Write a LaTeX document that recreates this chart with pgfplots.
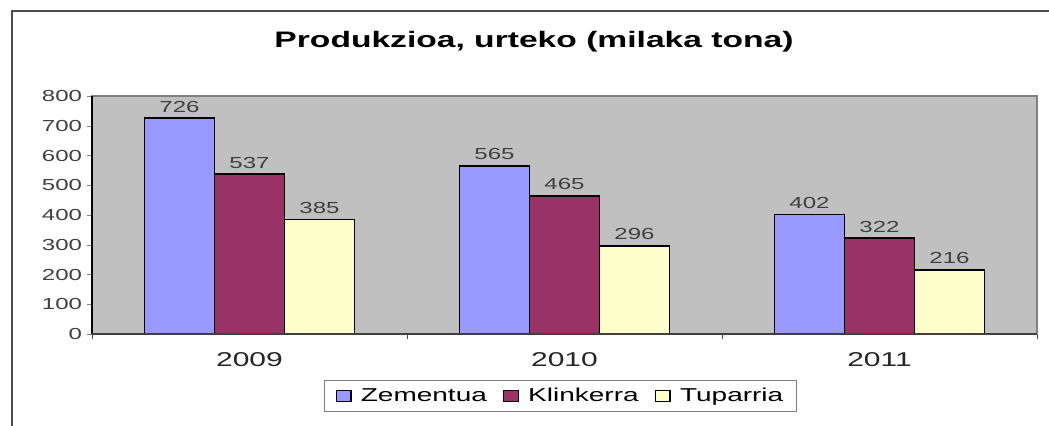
\documentclass[border=0pt]{standalone}
\usepackage{pgfplots}
\pgfplotsset{compat=1.18}
\usepackage{fontspec}
\setmainfont{Liberation Sans}[FakeStretch=1.5]
\definecolor{plotbg}{RGB}{192,192,192}
\definecolor{zem}{RGB}{153,153,255}
\definecolor{kli}{RGB}{153,51,102}
\definecolor{tup}{RGB}{255,255,204}
\definecolor{lbl}{RGB}{64,64,64}
\begin{document}
\begin{tikzpicture}
\path[use as bounding box] (0pt,0pt) rectangle (786.75pt,-318.75pt);
\draw[line width=1.5pt, black!70] (9pt,-320pt) -- (9pt,-8.25pt) -- (790pt,-8.25pt);
\node[anchor=base, font=\fontsize{16.8}{18}\selectfont\bfseries] at (400.5pt,-35.25pt) {Produkzioa, urteko (milaka tona)};
\begin{axis}[
  at={(69pt,-250.5pt)}, anchor=south west,
  scale only axis, width=708.75pt, height=178.5pt,
  ybar=0pt, bar width=52.5pt,
  xmin=-0.5, xmax=2.5, ymin=0, ymax=800,
  xtick={0,1,2}, xticklabels={2009,2010,2011},
  minor xtick={-0.5,0.5,1.5,2.5},
  major x tick style={draw=none},
  minor x tick style={black!70},
  minor tick length=4pt,
  ytick={0,100,...,800},
  major tick length=4pt,
  tick align=outside,
  xtick pos=bottom, ytick pos=left,
  axis background/.style={fill=plotbg},
  axis line style={draw=gray, line width=0.8pt},
  /pgf/number format/assume math mode=true,
  yticklabel style={font=\fontsize{12}{13}\selectfont, text=lbl},
  xticklabel style={font=\fontsize{15}{16}\selectfont, text=black!85, yshift=-6pt},
  nodes near coords,
  every node near coord/.append style={font=\fontsize{12}{13}\selectfont, text=lbl, anchor=south, inner sep=0pt, yshift=3.75pt},
  legend columns=3,
  legend style={at={(0.496,-0.26)}, anchor=center, draw=gray, line width=0.8pt, fill=white,
    font=\fontsize{14}{15}\selectfont, inner ysep=4pt, inner xsep=8pt,
    /tikz/every odd column/.append style={column sep=5pt},
    /tikz/every even column/.append style={column sep=10pt}},
  legend image code/.code={\draw[#1, draw=black, line width=1pt] (0pt,-4pt) rectangle (11pt,4pt);},
  after end axis/.code={
    \draw[black, line width=0.9pt] (rel axis cs:0,0) -- (rel axis cs:0,1);
    \draw[black!75, line width=0.9pt] (rel axis cs:0,0) -- (rel axis cs:1,0);
  },
]
\addplot[fill=zem, draw=black, line width=1.3pt] coordinates {(0,726) (1,565) (2,402)};
\addplot[fill=kli, draw=black, line width=1.3pt] coordinates {(0,537) (1,465) (2,322)};
\addplot[fill=tup, draw=black, line width=1.3pt] coordinates {(0,385) (1,296) (2,216)};
\legend{Zementua, Klinkerra, Tuparria}
\end{axis}
\end{tikzpicture}
\end{document}
